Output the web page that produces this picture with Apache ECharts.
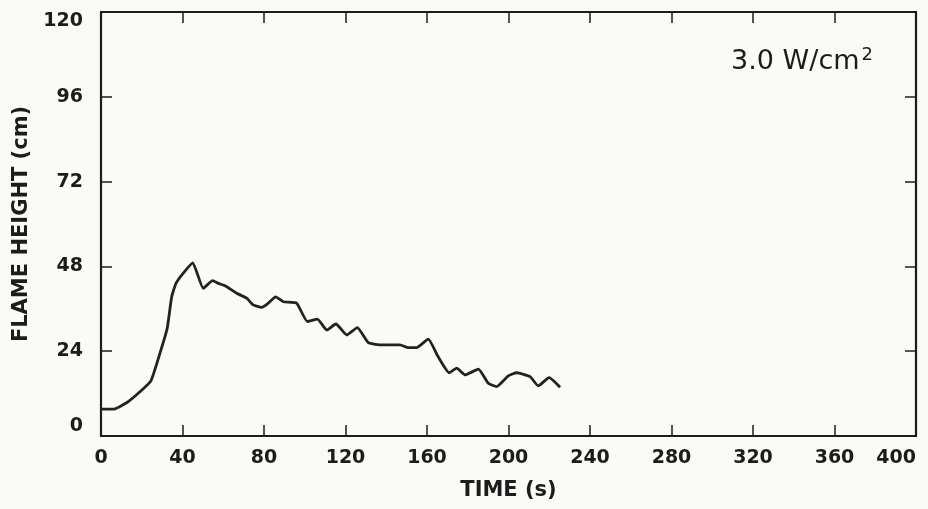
<!DOCTYPE html>
<html>
<head>
<meta charset="utf-8">
<script src="https://cdn.jsdelivr.net/npm/echarts@6/dist/echarts.min.js"></script>
<style>
html,body{margin:0;padding:0;background:#fafaf6;}
#chart{width:928px;height:509px;}
</style>
</head>
<body>
<div id="chart"></div>
<script>
// Data
var timeSec = [0, 6.0, 12.6, 19.1, 24.5, 29.4, 32.5, 34.7, 36.8, 40.4, 45.0, 50.2, 54.8, 57.6, 60.9, 66.6, 71.5, 74.7, 78.9, 82.1, 85.7, 89.5, 96.0, 101.3, 106.2, 110.8, 115.3, 120.6, 125.8, 131.2, 136.9, 146.7, 150.8, 154.9, 160.6, 165.5, 170.9, 174.6, 178.7, 185.2, 190.1, 194.2, 199.9, 204.0, 210.6, 214.6, 219.9, 225.3];
var flameHeight = [7.6, 7.6, 9.4, 12.5, 15.6, 24.3, 30.5, 39.4, 43.2, 46.1, 49.0, 41.8, 44.0, 43.2, 42.5, 40.4, 39.0, 37.1, 36.4, 37.6, 39.4, 38.0, 37.6, 32.4, 33.1, 30.0, 31.7, 28.6, 30.7, 26.4, 25.8, 25.8, 25.0, 25.0, 27.4, 22.4, 17.9, 19.2, 17.3, 18.9, 14.9, 14.0, 17.0, 17.9, 16.8, 14.2, 16.5, 13.8];
var xTicks = [0, 40, 80, 120, 160, 200, 240, 280, 320, 360, 400];
var yTicks = [0, 24, 48, 72, 96, 120];
var annotationText = '3.0 W/cm';
var annotationSup = '2';
var xTitle = 'TIME (s)';
var yTitle = 'FLAME HEIGHT (cm)';

var ink = '#1c1c1c';
var font = 'DejaVu Sans';
var seriesData = timeSec.map(function (t, i) { return [t, flameHeight[i]]; });

var chart = echarts.init(document.getElementById('chart'), null, {renderer: 'canvas'});
var tickCommon = {show: true, inside: true, length: 11, lineStyle: {color: ink, width: 1.5}};
var lineCommon = {show: true, onZero: false, lineStyle: {color: ink, width: 2.2}};

chart.setOption({
  backgroundColor: '#fafaf6',
  animation: false,
  grid: {left: 101, right: 12, top: 12, bottom: 73, containLabel: false},
  xAxis: [{
    type: 'value', min: xTicks[0], max: xTicks[xTicks.length - 1], interval: 40,
    position: 'bottom',
    axisLine: lineCommon, axisTick: tickCommon, splitLine: {show: false},
    axisLabel: {color: ink, fontFamily: font, fontSize: 19, fontWeight: 'bold', margin: 13, alignMaxLabel: 'right'},
    name: xTitle, nameLocation: 'middle', nameGap: 44,
    nameTextStyle: {color: ink, fontFamily: font, fontSize: 21, fontWeight: 'bold'}
  }, {
    type: 'value', min: xTicks[0], max: xTicks[xTicks.length - 1], interval: 40,
    position: 'top',
    axisLine: lineCommon, axisTick: tickCommon, splitLine: {show: false},
    axisLabel: {show: false}
  }],
  yAxis: [{
    type: 'value', min: yTicks[0], max: yTicks[yTicks.length - 1], interval: 24,
    position: 'left',
    axisLine: lineCommon, axisTick: tickCommon, splitLine: {show: false},
    axisLabel: {color: ink, fontFamily: font, fontSize: 19, fontWeight: 'bold', margin: 18,
      verticalAlignMinLabel: 'bottom', verticalAlignMaxLabel: 'top'},
    name: yTitle, nameLocation: 'middle', nameGap: 66,
    nameTextStyle: {color: ink, fontFamily: font, fontSize: 21, fontWeight: 'bold'}
  }, {
    type: 'value', min: yTicks[0], max: yTicks[yTicks.length - 1], interval: 24,
    position: 'right',
    axisLine: lineCommon, axisTick: tickCommon, splitLine: {show: false},
    axisLabel: {show: false}
  }],
  series: [{
    type: 'line',
    xAxisIndex: 0, yAxisIndex: 0,
    data: seriesData,
    showSymbol: false,
    smooth: 0.15,
    lineStyle: {color: '#222', width: 2.8},
    silent: true
  }],
  graphic: [{
    type: 'text',
    right: 55, top: 46,
    style: {
      text: '{a|' + annotationText + '}{s|' + annotationSup + '}',
      rich: {
        a: {fontFamily: font, fontSize: 27, fill: ink},
        s: {fontFamily: font, fontSize: 18, fill: ink, padding: [0, 0, 13, 2]}
      }
    }
  }]
});
</script>
</body>
</html>
